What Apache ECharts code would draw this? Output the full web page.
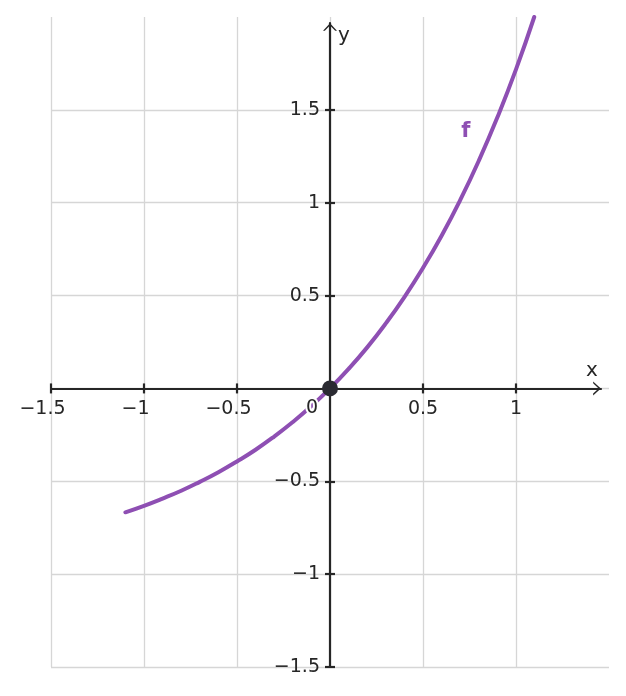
<!DOCTYPE html>
<html>
<head>
<meta charset="utf-8">
<script src="https://cdn.jsdelivr.net/npm/echarts@6/dist/echarts.min.js"></script>
<style>html,body{margin:0;padding:0;background:#fff}#c{width:626px;height:696px}</style>
</head>
<body>
<div id="c"></div>
<script>
// Data
const curveX = [-1.1, -1.0, -0.9, -0.8, -0.7, -0.6, -0.5, -0.4, -0.3, -0.2, -0.1, 0, 0.1, 0.2, 0.3, 0.4, 0.5, 0.6, 0.7, 0.8, 0.9, 1.0, 1.098];
const curveY = [-0.667, -0.632, -0.593, -0.551, -0.503, -0.451, -0.393, -0.330, -0.259, -0.181, -0.095, 0, 0.105, 0.221, 0.350, 0.492, 0.649, 0.822, 1.014, 1.226, 1.460, 1.718, 2.0];
const curveName = 'f';
const curveLabelAt = [0.73, 1.385];
const originPoint = [0, 0];
const originLabel = '0';
const xRange = [-1.5, 1.5];
const yRange = [-1.5, 2];
const tickStep = 0.5;
const xTickValues = [-1.5, -1, -0.5, 0, 0.5, 1];
const yTickValues = [-1.5, -1, -0.5, 0, 0.5, 1, 1.5];
const axisNames = ['x', 'y'];

const FONT = 'DejaVu Sans';
const INK = '#262626';
const PURPLE = '#8e4fb3';
const GRIDC = '#d6d6d6';

const GRID = {left: 51, right: 17, top: 17, bottom: 29};
const W = 626, H = 696;
const xLen = W - GRID.left - GRID.right;
const yLen = H - GRID.top - GRID.bottom;
// pixel distance from the grid edges to the zero lines (labels follow the zero lines)
const zeroXOff = (0 - xRange[0]) / (xRange[1] - xRange[0]) * xLen;
const zeroYOff = (0 - yRange[0]) / (yRange[1] - yRange[0]) * yLen;

const chart = echarts.init(document.getElementById('c'), null, {renderer: 'canvas'});

function fmtX(v) {
  if (v === 0) return '';
  const s = String(Math.abs(v));
  return v < 0 ? '{neg|\u2212' + s + '}' : s;
}
const richX = {
  neg: {fontFamily: FONT, fontSize: 19, color: INK, padding: [0, 17, 0, 0]}
};
const chev = 'path://M10,0 L20,11 L17.4,11 L10,3.2 L2.6,11 L0,11 Z';

const baseX = {type: 'value', min: xRange[0], max: xRange[1], interval: tickStep};
const baseY = {type: 'value', min: yRange[0], max: yRange[1], interval: tickStep};
const tickStyleX = {show: true, inside: false, length: 5, customValues: xTickValues, lineStyle: {color: INK, width: 2.2}};
const tickStyleY = {show: true, inside: false, length: 5, customValues: yTickValues, lineStyle: {color: INK, width: 2.2}};

chart.setOption({
  animation: false,
  grid: Object.assign({containLabel: false, outerBoundsMode: 'none'}, GRID),
  xAxis: [
    Object.assign({}, baseX, {
      position: 'bottom',
      name: axisNames[0], nameLocation: 'end', nameGap: -17,
      nameTextStyle: {fontFamily: FONT, fontSize: 20, color: INK, align: 'center', verticalAlign: 'bottom', padding: [0, 0, 8, 0]},
      axisLine: {onZero: true, onZeroAxisIndex: 0, lineStyle: {color: INK, width: 2.2, type: [xLen - 8, 2000]}, symbol: ['none', chev], symbolSize: [14, 9], symbolOffset: [0, -12]},
      axisTick: tickStyleX,
      axisLabel: {
        margin: -zeroYOff + 11, fontFamily: FONT, fontSize: 19, color: INK, rich: richX,
        showMaxLabel: false,
        formatter: v => fmtX(v)
      },
      splitLine: {show: true, showMaxLine: true, lineStyle: {color: GRIDC, width: 1.3}}
    }),
    Object.assign({}, baseX, {
      position: 'top',
      axisLine: {onZero: true, onZeroAxisIndex: 0, lineStyle: {color: INK, width: 2.2, opacity: 0}},
      axisTick: tickStyleX,
      axisLabel: {show: false},
      splitLine: {show: false}
    })
  ],
  yAxis: [
    Object.assign({}, baseY, {
      position: 'left',
      name: axisNames[1], nameLocation: 'end', nameGap: -19,
      nameTextStyle: {fontFamily: FONT, fontSize: 20, color: INK, align: 'left', verticalAlign: 'middle', padding: [0, 0, 0, 8]},
      axisLine: {onZero: true, onZeroAxisIndex: 0, lineStyle: {color: INK, width: 2.2, type: [yLen - 6, 2000]}, symbol: ['none', chev], symbolSize: [14, 9], symbolOffset: [0, -10]},
      axisTick: tickStyleY,
      axisLabel: {
        margin: -zeroXOff + 10, fontFamily: FONT, fontSize: 19, color: INK,
        showMaxLabel: false,
        formatter: v => v === 0 ? '' : (v < 0 ? '\u2212' + Math.abs(v) : String(v))
      },
      splitLine: {show: true, showMaxLine: true, lineStyle: {color: GRIDC, width: 1.3}}
    }),
    Object.assign({}, baseY, {
      position: 'right',
      axisLine: {onZero: true, onZeroAxisIndex: 0, lineStyle: {color: INK, width: 2.2, opacity: 0}},
      axisTick: tickStyleY,
      axisLabel: {show: false},
      splitLine: {show: false}
    })
  ],
  series: [
    {
      type: 'line', xAxisIndex: 0, yAxisIndex: 0,
      data: curveX.map((x, i) => [x, curveY[i]]),
      showSymbol: false, smooth: true,
      lineStyle: {color: PURPLE, width: 4, cap: 'round'},
      z: 5
    },
    {
      type: 'scatter', xAxisIndex: 0, yAxisIndex: 0,
      data: [curveLabelAt], symbolSize: 0,
      itemStyle: {opacity: 1},
      label: {show: true, position: 'inside', formatter: curveName, fontFamily: FONT, fontSize: 21, fontWeight: 'bold', color: PURPLE, textBorderWidth: 0},
      z: 6
    },
    {
      type: 'scatter', xAxisIndex: 0, yAxisIndex: 0,
      data: [originPoint], symbolSize: 16,
      itemStyle: {color: '#2a2a32', opacity: 1},
      label: {show: true, position: 'inside', offset: [-18, 20], formatter: originLabel, fontFamily: FONT, fontSize: 19, color: INK, textBorderColor: '#ffffff', textBorderWidth: 4},
      z: 10
    }
  ]
});
</script>
</body>
</html>
